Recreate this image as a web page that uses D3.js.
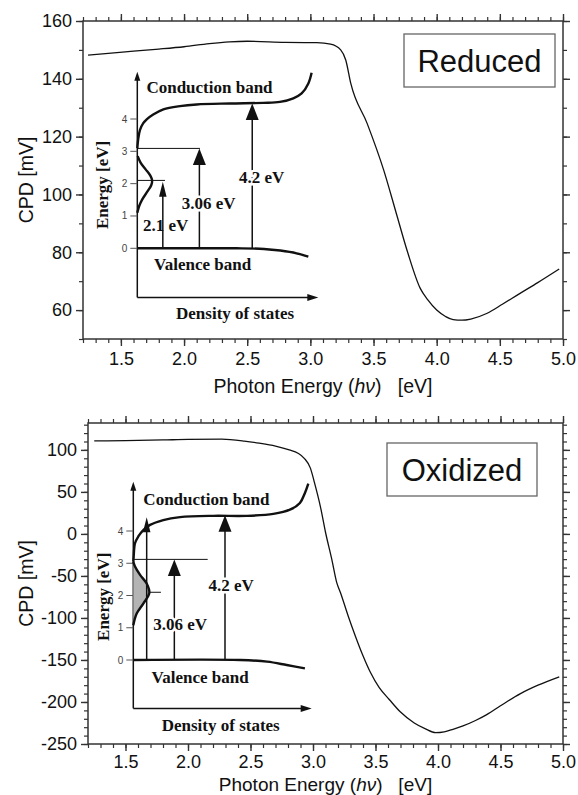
<!DOCTYPE html>
<html>
<head>
<meta charset="utf-8">
<script src="https://cdn.jsdelivr.net/npm/d3@7"></script>
<style>
  body { margin: 0; background: #fff; }
  text { font-family: "Liberation Sans", Arial, sans-serif; }
  .serif { font-family: "Liberation Serif", "Times New Roman", serif; font-weight: bold; }
</style>
</head>
<body>
<script>
// ---- main CPD spectra ----
const energyReduced = [1.24, 1.4, 1.6, 1.8, 2.0, 2.2, 2.36, 2.5, 2.8, 3.05, 3.16, 3.24, 3.28, 3.32, 3.45, 3.58, 3.68, 3.77, 3.87, 3.93, 4.0, 4.07, 4.13, 4.2, 4.27, 4.4, 4.52, 4.66, 4.8, 4.97];
const cpdReduced = [148.2, 148.8, 149.6, 150.3, 151.1, 152.2, 152.8, 153.0, 152.6, 152.5, 152.0, 150.0, 146.5, 138.4, 124.5, 108.5, 93.5, 80.0, 67.5, 63.5, 60.0, 57.8, 56.7, 56.5, 56.9, 58.9, 62.0, 65.8, 69.5, 74.2];

const energyOxidized = [1.25, 1.5, 1.8, 2.0, 2.27, 2.45, 2.57, 2.7, 2.81, 2.88, 2.93, 2.98, 3.01, 3.06, 3.10, 3.15, 3.19, 3.22, 3.28, 3.34, 3.40, 3.46, 3.53, 3.61, 3.70, 3.81, 3.90, 3.98, 4.05, 4.12, 4.2, 4.3, 4.39, 4.5, 4.66, 4.8, 4.97];
const cpdOxidized = [110.7, 111.0, 111.8, 112.5, 112.7, 110.5, 108.0, 104.5, 100.0, 96.0, 90.0, 78.0, 62.0, 32.0, 2.0, -30.0, -58.0, -70.0, -97.0, -122.0, -145.0, -165.0, -183.0, -197.0, -212.0, -225.0, -232.0, -236.5, -235.5, -232.5, -228.5, -222.0, -215.0, -204.5, -190.0, -180.0, -170.0];

const xTickLabels = [1.5, 2.0, 2.5, 3.0, 3.5, 4.0, 4.5, 5.0];
const yTicksReduced = [60, 80, 100, 120, 140, 160];
const yTicksOxidized = [-250, -200, -150, -100, -50, 0, 50, 100];
const panelNames = ["Reduced", "Oxidized"];

// ---- inset band diagrams (density of states vs energy) ----
const insetEnergyTicks = [0, 1, 2, 3, 4];

const cbReducedDos = [0, 0.0055, 0.015, 0.033, 0.052, 0.088, 0.144, 0.236, 0.328, 0.512, 0.696, 0.788, 0.862, 0.908, 0.945, 0.963];
const cbReducedE = [3.1, 3.4, 3.66, 3.87, 3.99, 4.14, 4.3, 4.4, 4.45, 4.48, 4.5, 4.53, 4.64, 4.79, 5.1, 5.43];
const vbReducedDos = [0, 0.55, 0.7, 0.79, 0.88, 0.945];
const vbReducedE = [0, 0, -0.02, -0.07, -0.155, -0.26];
const defectReducedDos = [0.0, 0.01, 0.026, 0.055, 0.077, 0.082, 0.072, 0.045, 0.018, 0.002];
const defectReducedE = [1.1, 1.3, 1.5, 1.75, 1.95, 2.1, 2.25, 2.45, 2.65, 2.85];
const levelsReduced = [{e: 2.1, dos: 0.153}, {e: 3.09, dos: 0.346}];
const arrowsReduced = [
  {dos: 0.141, tip: 2.06, label: "2.1 eV", small: true},
  {dos: 0.343, tip: 3.09, label: "3.06 eV"},
  {dos: 0.635, tip: 4.48, label: "4.2 eV"}
];

const cbOxidizedDos = [0, 0.002, 0.0095, 0.028, 0.056, 0.094, 0.168, 0.262, 0.448, 0.636, 0.785, 0.878, 0.934, 0.962, 0.981];
const cbOxidizedE = [3.05, 3.2, 3.62, 3.83, 4.03, 4.19, 4.34, 4.43, 4.47, 4.47, 4.53, 4.66, 4.87, 5.18, 5.47];
const vbOxidizedDos = [0, 0.6, 0.75, 0.86, 0.962];
const vbOxidizedE = [0, 0, -0.05, -0.155, -0.26];
const defectOxidizedDos = [0, 0.019, 0.056, 0.09, 0.075, 0.038, 0.0095, 0];
const defectOxidizedE = [1.08, 1.44, 1.75, 2.08, 2.37, 2.64, 2.9, 3.05];
const levelsOxidized = [{e: 2.1, dos: 0.155}, {e: 3.12, dos: 0.417}];
const arrowsOxidized = [
  {dos: 0.075, tip: 4.43, label: "", small: true},
  {dos: 0.23, tip: 3.12, label: "3.06 eV"},
  {dos: 0.514, tip: 4.49, label: "4.2 eV"}
];

const zip = (a, b) => a.map((v, i) => [v, b[i]]);

const svg = d3.select("body").append("svg")
  .attr("width", 578).attr("height", 795)
  .style("display", "block");

const panels = [
  {
    name: panelNames[0], energy: energyReduced, cpd: cpdReduced, yTicks: yTicksReduced,
    left: 83, right: 563, top: 21, bottom: 339, yDomain: [50, 160], minorY: 11,
    box: [404, 34, 555, 87], xLabelY: 393, xPad: 6, titleSize: 19.5,
    inset: {
      x0: 137.3, x1: 318.3, e0: 248.3, e4: 119, eMin: -1.52, eMax: 5.46,
      cb: zip(cbReducedDos, cbReducedE), vb: zip(vbReducedDos, vbReducedE),
      defect: zip(defectReducedDos, defectReducedE), filled: false,
      levels: levelsReduced, arrows: arrowsReduced,
      labelPos: {
        "2.1 eV": [0.157, 0.535], "3.06 eV": [0.394, 1.216], "4.2 eV": [0.687, 2.02],
        cond: [0.399, 4.8], val: [0.361, -0.67], dens: [0.54, -2.19], energy: [-0.197, 1.96]
      }
    }
  },
  {
    name: panelNames[1], energy: energyOxidized, cpd: cpdOxidized, yTicks: yTicksOxidized,
    left: 88, right: 563, top: 423, bottom: 744, yDomain: [-250, 132], minorY: 40,
    box: [387, 443, 537, 496], xLabelY: 790.5, xPad: 4, titleSize: 19,
    inset: {
      x0: 133.3, x1: 311.7, e0: 660, e4: 531, eMin: -1.5, eMax: 5.53,
      cb: zip(cbOxidizedDos, cbOxidizedE), vb: zip(vbOxidizedDos, vbOxidizedE),
      defect: zip(defectOxidizedDos, defectOxidizedE), filled: true,
      levels: levelsOxidized, arrows: arrowsOxidized,
      labelPos: {
        "3.06 eV": [0.263, 0.93], "4.2 eV": [0.548, 2.155],
        cond: [0.41, 4.81], val: [0.374, -0.70], dens: [0.49, -2.2], energy: [-0.168, 1.96]
      }
    }
  }
];

panels.forEach(p => {
  const x = d3.scaleLinear().domain([1.2, 5.0]).range([p.left, p.right]);
  const y = d3.scaleLinear().domain(p.yDomain).range([p.bottom, p.top]);
  const g = svg.append("g");

  // minor + major ticks on all four sides (all pointing outward)
  const minorX = x.ticks(38);
  const minorY = y.ticks(p.minorY);
  const axes = [
    [() => d3.axisBottom(x), `translate(0,${p.bottom})`, minorX, xTickLabels, d3.format(".1f"), p.xPad],
    [() => d3.axisTop(x), `translate(0,${p.top})`, minorX, xTickLabels, null, 4],
    [() => d3.axisLeft(y), `translate(${p.left},0)`, minorY, p.yTicks, d => String(d), 4],
    [() => d3.axisRight(y), `translate(${p.right},0)`, minorY, p.yTicks, null, 4]
  ];
  axes.forEach(([mk, tr, minor, major, fmt, pad]) => {
    const gm = g.append("g").attr("transform", tr)
      .call(mk().tickValues(minor).tickSize(4).tickSizeOuter(0).tickFormat(""));
    gm.select(".domain").remove();
    gm.selectAll("line").attr("stroke", "#333").attr("stroke-width", 1.2);
    const gM = g.append("g").attr("transform", tr)
      .call(mk().tickValues(major).tickSize(7).tickSizeOuter(0).tickPadding(pad)
        .tickFormat(fmt ? fmt : () => ""));
    gM.select(".domain").remove();
    gM.selectAll("line").attr("stroke", "#333").attr("stroke-width", 1.4);
    gM.selectAll("text").attr("font-size", 18).attr("fill", "#111");
  });

  g.append("rect")
    .attr("x", p.left).attr("y", p.top)
    .attr("width", p.right - p.left).attr("height", p.bottom - p.top)
    .attr("fill", "none").attr("stroke", "#333").attr("stroke-width", 1.5);

  // spectrum
  g.append("path")
    .datum(zip(p.energy, p.cpd))
    .attr("fill", "none").attr("stroke", "#111").attr("stroke-width", 1.3)
    .attr("d", d3.line().x(d => x(d[0])).y(d => y(d[1])).curve(d3.curveMonotoneX));

  // axis titles
  g.append("text")
    .attr("transform", `translate(33,${(p.top + p.bottom) / 2}) rotate(-90)`)
    .attr("text-anchor", "middle").attr("font-size", 19.5).attr("fill", "#111")
    .text("CPD [mV]");
  const t = g.append("text")
    .attr("x", (p.left + p.right) / 2).attr("y", p.xLabelY)
    .attr("text-anchor", "middle").attr("font-size", p.titleSize).attr("fill", "#111");
  t.append("tspan").text("Photon Energy (");
  t.append("tspan").attr("font-style", "italic").text("h\u03bd");
  t.append("tspan").text(")\u00a0\u00a0\u00a0[eV]");

  // label box
  const [bx0, by0, bx1, by1] = p.box;
  g.append("rect").attr("x", bx0).attr("y", by0).attr("width", bx1 - bx0).attr("height", by1 - by0)
    .attr("fill", "#fff").attr("stroke", "#666").attr("stroke-width", 1.3);
  g.append("text").attr("x", (bx0 + bx1) / 2).attr("y", (by0 + by1) / 2 + 11)
    .attr("text-anchor", "middle").attr("font-size", 31).attr("fill", "#111")
    .text(p.name);

  drawInset(g, p.inset);
});

function drawInset(g, s) {
  const xd = d3.scaleLinear().domain([0, 1]).range([s.x0, s.x1]);
  const ye = d3.scaleLinear().domain([0, 4]).range([s.e0, s.e4]);
  const ig = g.append("g");
  const ink = "#111";

  // axes with arrowheads
  ig.append("line").attr("x1", xd(0)).attr("x2", xd(0)).attr("y1", ye(s.eMin)).attr("y2", ye(s.eMax) + 8)
    .attr("stroke", ink).attr("stroke-width", 1.5);
  ig.append("path").attr("fill", ink)
    .attr("d", `M${xd(0)},${ye(s.eMax)} l-3,9 l6,0 z`);
  ig.append("line").attr("x1", xd(0)).attr("x2", xd(1) - 9).attr("y1", ye(s.eMin)).attr("y2", ye(s.eMin))
    .attr("stroke", ink).attr("stroke-width", 1.5);
  ig.append("path").attr("fill", ink)
    .attr("d", `M${xd(1)},${ye(s.eMin)} l-11,-3.5 l0,7 z`);

  // energy ticks
  insetEnergyTicks.forEach(e => {
    ig.append("line").attr("x1", xd(0) - 7).attr("x2", xd(0)).attr("y1", ye(e)).attr("y2", ye(e))
      .attr("stroke", "#555").attr("stroke-width", 1);
    ig.append("text").attr("x", xd(0) - 10).attr("y", ye(e) + 3.5)
      .attr("text-anchor", "end").attr("font-size", 10).attr("fill", "#444").text(e);
  });

  // level lines
  s.levels.forEach(l => {
    ig.append("line").attr("x1", xd(0)).attr("x2", xd(l.dos)).attr("y1", ye(l.e)).attr("y2", ye(l.e))
      .attr("stroke", ink).attr("stroke-width", 1);
  });

  // defect state
  if (s.filled) {
    ig.append("path").datum(s.defect)
      .attr("fill", "#b4b4b4")
      .attr("d", d3.area().y(d => ye(d[1])).x0(xd(0)).x1(d => xd(d[0])).curve(d3.curveCatmullRom));
  }
  const band = d3.line().x(d => xd(d[0])).y(d => ye(d[1])).curve(d3.curveCatmullRom.alpha(0.5));
  [s.defect, s.cb, s.vb].forEach(dat => {
    ig.append("path").datum(dat).attr("fill", "none").attr("stroke", ink)
      .attr("stroke-width", 2.4).attr("d", band);
  });

  // transition arrows
  s.arrows.forEach(a => {
    const w = a.small ? 7.5 : 13, h = a.small ? 15 : 16.5;
    const ax = xd(a.dos), tip = ye(a.tip);
    ig.append("line").attr("x1", ax).attr("x2", ax).attr("y1", ye(0)).attr("y2", tip + h - 1)
      .attr("stroke", ink).attr("stroke-width", 1.5);
    ig.append("path").attr("fill", ink)
      .attr("d", `M${ax},${tip} L${ax - w / 2},${tip + h} L${ax + w / 2},${tip + h} Z`);
    if (a.label) {
      const [lx, le] = s.labelPos[a.label];
      ig.append("text").attr("class", "serif")
        .attr("x", xd(lx)).attr("y", ye(le)).attr("text-anchor", "middle")
        .attr("font-size", 17).attr("fill", ink)
        .attr("stroke", a.small ? "none" : "#fff").attr("stroke-width", 5)
        .attr("paint-order", "stroke")
        .text(a.label);
    }
  });

  const lbl = (pos, txt) => ig.append("text").attr("class", "serif")
    .attr("x", xd(pos[0])).attr("y", ye(pos[1])).attr("text-anchor", "middle")
    .attr("font-size", 17).attr("fill", ink).text(txt);
  lbl(s.labelPos.cond, "Conduction band");
  lbl(s.labelPos.val, "Valence band");
  lbl(s.labelPos.dens, "Density of states");
  ig.append("text").attr("class", "serif")
    .attr("transform", `translate(${xd(s.labelPos.energy[0])},${ye(s.labelPos.energy[1])}) rotate(-90)`)
    .attr("dy", "0.35em")
    .attr("text-anchor", "middle").attr("font-size", 17).attr("fill", ink)
    .text("Energy [eV]");
}
</script>
</body>
</html>
